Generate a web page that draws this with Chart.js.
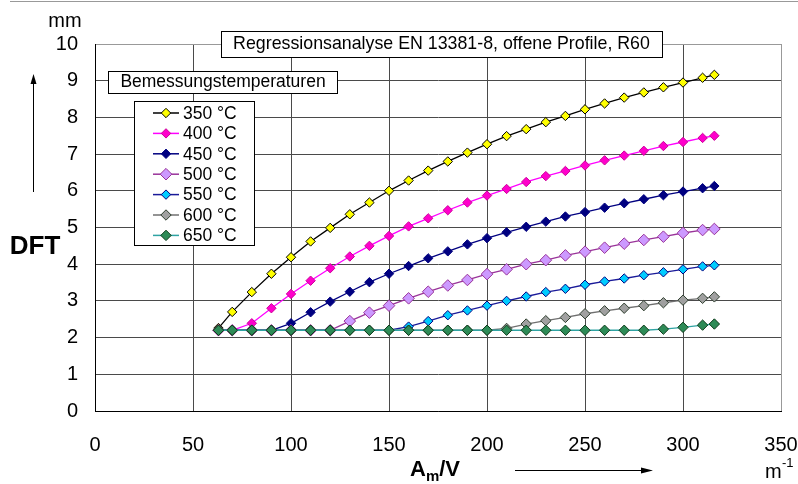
<!DOCTYPE html>
<html>
<head>
<meta charset="utf-8">
<title>DFT Regressionsanalyse</title>
<script src="https://cdn.jsdelivr.net/npm/chart.js@4.4.1/dist/chart.umd.min.js"></script>
<style>
  html, body { margin: 0; padding: 0; background: #fff; }
  #wrap { width: 798px; height: 484px; position: relative; }
</style>
</head>
<body>
<div id="wrap"><canvas id="dft"></canvas></div>
<script>
"use strict";

// ── Data: section factor Am/V (1/m) and required DFT (mm) per design temperature
const amv   = [63, 70, 80, 90, 100, 110, 120, 130, 140, 150, 160, 170, 180, 190, 200,
               210, 220, 230, 240, 250, 260, 270, 280, 290, 300, 310, 316];
const temps = ["350 °C", "400 °C", "450 °C", "500 °C", "550 °C", "600 °C", "650 °C"];

const dft350 = [2.26, 2.70, 3.24, 3.74, 4.19, 4.62, 4.99, 5.36, 5.68, 6.00, 6.28, 6.55, 6.80, 7.04, 7.27,
                7.49, 7.68, 7.87, 8.04, 8.22, 8.38, 8.54, 8.68, 8.82, 8.95, 9.08, 9.16];
const dft400 = [2.20, 2.20, 2.39, 2.80, 3.19, 3.55, 3.89, 4.21, 4.50, 4.77, 5.03, 5.25, 5.47, 5.68, 5.87,
                6.05, 6.24, 6.40, 6.54, 6.69, 6.83, 6.96, 7.09, 7.22, 7.33, 7.44, 7.50];
const dft450 = [2.20, 2.20, 2.20, 2.20, 2.39, 2.69, 2.98, 3.25, 3.51, 3.74, 3.95, 4.16, 4.35, 4.54, 4.71,
                4.87, 5.02, 5.16, 5.30, 5.42, 5.54, 5.66, 5.77, 5.88, 5.98, 6.07, 6.13];
const dft500 = [2.20, 2.20, 2.20, 2.20, 2.20, 2.20, 2.20, 2.45, 2.68, 2.87, 3.07, 3.25, 3.42, 3.57, 3.73,
                3.86, 4.00, 4.11, 4.24, 4.34, 4.45, 4.56, 4.66, 4.75, 4.85, 4.93, 4.96];
const dft550 = [2.20, 2.20, 2.20, 2.20, 2.20, 2.20, 2.20, 2.20, 2.20, 2.20, 2.30, 2.45, 2.61, 2.74, 2.87,
                3.00, 3.12, 3.24, 3.33, 3.44, 3.53, 3.61, 3.70, 3.78, 3.86, 3.94, 3.97];
const dft600 = [2.20, 2.20, 2.20, 2.20, 2.20, 2.20, 2.20, 2.20, 2.20, 2.20, 2.20, 2.20, 2.20, 2.20, 2.20,
                2.25, 2.37, 2.46, 2.55, 2.65, 2.73, 2.80, 2.87, 2.95, 3.02, 3.07, 3.11];
const dft650 = [2.20, 2.20, 2.20, 2.20, 2.20, 2.20, 2.20, 2.20, 2.20, 2.20, 2.20, 2.20, 2.20, 2.20, 2.20,
                2.20, 2.20, 2.20, 2.20, 2.20, 2.20, 2.20, 2.20, 2.23, 2.28, 2.34, 2.37];
const series = [dft350, dft400, dft450, dft500, dft550, dft600, dft650];

const xTicks = [0, 50, 100, 150, 200, 250, 300, 350];
const yTicks = [0, 1, 2, 3, 4, 5, 6, 7, 8, 9, 10];

const chartTitle  = "Regressionsanalyse EN 13381-8, offene Profile, R60";
const legendTitle = "Bemessungstemperaturen";

// ── Styles
const FONT      = "'Liberation Sans', Arial, sans-serif";
const lineCols  = ["#000000", "#FF00FF", "#000080", "#993399", "#1A1A99", "#707070", "#2FA3A3"];
const fillCols  = ["#FFFF00", "#FF00CC", "#000080", "#CC99FF", "#00CCFF", "#A0A0A0", "#2E8B57"];
const edgeCols  = ["#000000", "#CC0099", "#000080", "#993399", "#000080", "#2F3F2F", "#0D3B1A"];
const radii     = [4.7, 4.7, 4.7, 5.8, 4.7, 5.2, 5.2];

const $ = id => document.getElementById(id);

function diamond(c, x, y, r, fill, edge) {
  c.beginPath();
  c.moveTo(x - r, y); c.lineTo(x, y - r); c.lineTo(x + r, y); c.lineTo(x, y + r);
  c.closePath();
  c.fillStyle = fill; c.fill();
  c.lineWidth = 1; c.strokeStyle = edge; c.stroke();
}

function box(c, x, y, w, h) {
  c.fillStyle = "#fff";
  c.fillRect(x, y, w, h);
  c.lineWidth = 1;
  c.strokeStyle = "#000";
  c.strokeRect(x + 0.5, y + 0.5, w, h);
}

// ── Labels, boxes and legend drawn on top of the plot
const decor = {
  id: "decor",
  afterDraw(chart) {
    const c = chart.ctx;
    c.save();

    // thin rule across the top
    c.strokeStyle = "#999"; c.lineWidth = 1;
    c.beginPath(); c.moveTo(10, 1.5); c.lineTo(798, 1.5); c.stroke();

    // title box
    box(c, 221, 31, 441, 26);
    c.fillStyle = "#000";
    c.font = `17.8px ${FONT}`;
    c.textAlign = "center"; c.textBaseline = "middle";
    c.fillText(chartTitle, 441.5, 44.5);

    // legend heading box
    box(c, 108, 71, 229, 22);
    c.font = `17.5px ${FONT}`;
    c.fillStyle = "#000";
    c.fillText(legendTitle, 223, 82.5);

    // legend
    box(c, 134, 101, 120, 144);
    c.textAlign = "left";
    temps.forEach((t, i) => {
      const y = 113 + i * 20.4;
      c.strokeStyle = lineCols[i]; c.lineWidth = 1.5;
      c.beginPath(); c.moveTo(153, y); c.lineTo(179, y); c.stroke();
      diamond(c, 166, y, radii[i], fillCols[i], edgeCols[i]);
      c.fillStyle = "#000";
      c.font = `17.5px ${FONT}`;
      c.fillText(t, 183, y + 1);
    });

    // y axis: unit, arrow, name
    c.fillStyle = "#000";
    c.textAlign = "center";
    c.font = `20px ${FONT}`;
    c.fillText("mm", 65, 21);
    c.strokeStyle = "#000"; c.lineWidth = 1;
    c.beginPath(); c.moveTo(33.5, 192); c.lineTo(33.5, 82); c.stroke();
    c.beginPath(); c.moveTo(33.5, 74); c.lineTo(30.5, 84); c.lineTo(36.5, 84); c.closePath(); c.fill();
    c.font = `bold 26px ${FONT}`;
    c.fillText("DFT", 35, 247);

    // x axis: name with subscript, arrow, unit
    c.textAlign = "left"; c.textBaseline = "alphabetic";
    c.font = `bold 22px ${FONT}`;
    c.fillText("A", 410, 476);
    const aw = c.measureText("A").width;
    c.font = `bold 15px ${FONT}`;
    c.fillText("m", 410 + aw, 481);
    const mw = c.measureText("m").width;
    c.font = `bold 22px ${FONT}`;
    c.fillText("/V", 410 + aw + mw, 476);

    c.beginPath(); c.moveTo(515, 470.5); c.lineTo(643, 470.5); c.stroke();
    c.beginPath(); c.moveTo(653, 470.5); c.lineTo(641, 467.5); c.lineTo(641, 473.5); c.closePath(); c.fill();

    c.font = `20px ${FONT}`;
    c.fillText("m", 765, 478);
    c.font = `13px ${FONT}`;
    c.fillText("-1", 782, 467);

    c.restore();
  }
};

const datasets = series.map((vals, i) => ({
  label: temps[i],
  data: amv.map((x, k) => ({ x, y: vals[k] })),
  showLine: true,
  borderColor: lineCols[i],
  borderWidth: 1.3,
  pointStyle: "rectRot",
  pointRadius: radii[i],
  pointBackgroundColor: fillCols[i],
  pointBorderColor: edgeCols[i],
  pointBorderWidth: 1,
  order: series.length - 1 - i,   // hottest curve ends up on top
}));

const tickFont = { size: 20, family: FONT };

new Chart($("dft").getContext("2d"), {
  type: "scatter",
  data: { datasets },
  options: {
    responsive: true, maintainAspectRatio: false,
    devicePixelRatio: 1,
    animation: false,
    layout: { padding: { top: 44, right: 17, left: 0, bottom: 0 } },
    plugins: { legend: { display: false }, tooltip: { enabled: false }, title: { display: false } },
    scales: {
      x: {
        type: "linear", min: xTicks[0], max: xTicks[xTicks.length - 1],
        afterBuildTicks: s => { s.ticks = xTicks.map(v => ({ value: v })); },
        afterFit: s => { s.height = 73; s.paddingLeft = 0; s.paddingRight = 0; },
        ticks: { color: "#000", font: tickFont, padding: 22, maxRotation: 0 },
        grid: { color: ctx => ctx.tick && ctx.tick.value === 350 ? "#999" : "#4a4a4a", drawTicks: false },
        border: { color: "#000" },
      },
      y: {
        type: "linear", min: yTicks[0], max: yTicks[yTicks.length - 1],
        afterBuildTicks: s => { s.ticks = yTicks.map(v => ({ value: v })); },
        afterFit: s => { s.width = 95; s.paddingTop = 0; s.paddingBottom = 0; },
        ticks: { color: "#000", font: tickFont, padding: 17 },
        grid: { color: ctx => ctx.tick && ctx.tick.value === 10 ? "#999" : "#4a4a4a", drawTicks: false },
        border: { color: "#000" },
      },
    },
  },
  plugins: [decor],
});
</script>
</body>
</html>
